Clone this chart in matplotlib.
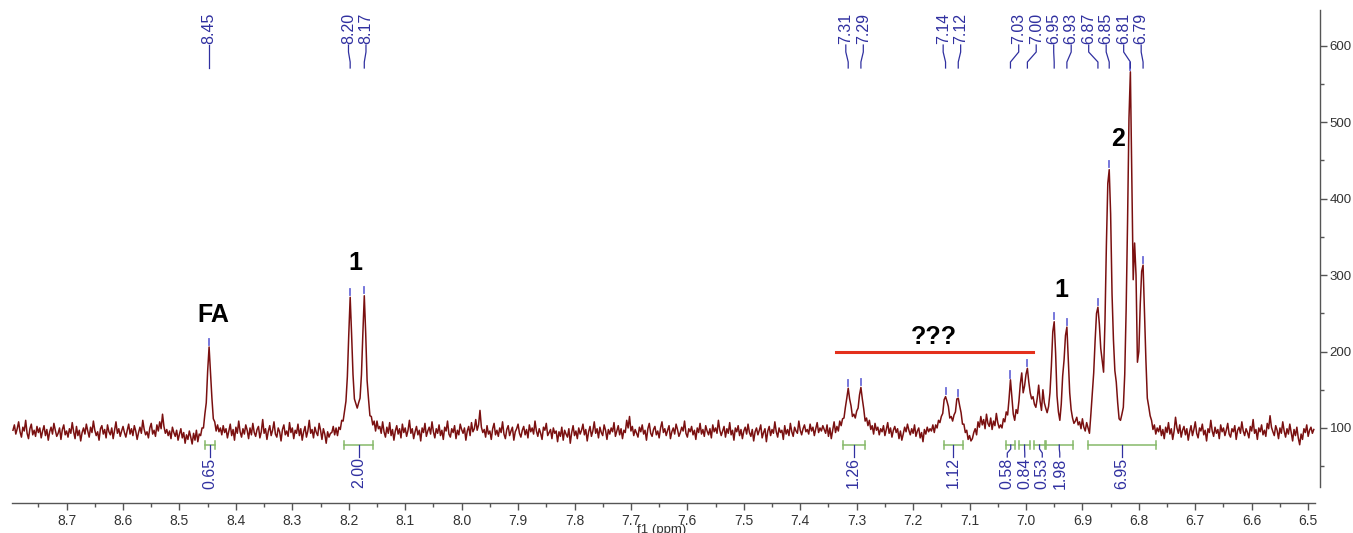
import numpy as np
import matplotlib.pyplot as plt
from matplotlib.transforms import blended_transform_factory

plt.rcParams['font.family'] = ['Liberation Sans', 'DejaVu Sans']

# espectro 1H, una muestra cada 0.0025 ppm desde 8.795 ppm
ppm_start = 8.795
ppm_step = 0.0025
intensity = [
    # 8.795 - 8.48
    97, 104, 92, 99, 108, 95, 88, 101, 96, 110, 93, 86, 99, 105, 91, 97, 89, 102, 94, 100,
    87, 96, 103, 90, 98, 84, 95, 101, 92, 106, 97, 89, 93, 100, 85, 98, 104, 91, 96, 88,
    99, 93, 107, 95, 86, 102, 90, 97, 83, 94, 100, 92, 105, 96, 88, 101, 94, 109, 97, 90,
    95, 84, 99, 103, 92, 98, 87, 104, 95, 91, 100, 86, 97, 108, 93, 99, 89, 96, 102, 94,
    88, 97, 105, 92, 99, 90, 103, 96, 85, 94, 101, 93, 110, 98, 91, 95, 87, 100, 106, 92,
    97, 89, 104, 96, 108, 99, 118, 102, 93, 98, 90, 96, 86, 101, 94, 89, 97, 84, 92, 99,
    87, 94, 80, 91, 85, 96,
    # FA 8.45
    88, 79, 93, 84, 97, 82, 92, 90, 100, 100, 118, 133, 175, 206, 172, 139, 112, 108, 96, 104,
    95, 100, 91, 103, 94, 99, 87,
    # 8.41 - 8.23
    96, 105, 90, 98, 84, 101, 93, 109, 95, 88, 99, 92, 104, 97, 86, 100, 91, 106, 94, 89,
    98, 102, 87, 95, 111, 93, 99, 85, 96, 103, 90, 97, 108, 92, 88, 100, 95, 83, 98, 104,
    91, 96, 89, 107, 94, 100, 86, 97, 93, 105, 90, 99, 84, 95, 102, 88, 96, 110, 93, 98,
    87, 101, 94, 90, 106, 97, 85, 99, 92, 80, 95, 88, 93,
    # 8.20 / 8.17
    94, 102, 91, 100, 90, 101, 98, 110, 109, 122, 135, 167, 222, 271, 223, 170, 138, 132, 126, 133,
    139, 170, 224, 273, 224, 162, 138, 116, 115, 104, 109, 96, 109, 99, 102, 93, 108,
    # 8.14 - 7.36
    95, 88, 101, 93, 107, 90, 98, 84, 96, 103, 92, 99, 87, 105, 94, 100, 89, 97, 110, 93,
    99, 86, 95, 102, 91, 97, 83, 100, 94, 106, 89, 96, 101, 92, 108, 95, 87, 99, 93, 104,
    90, 97, 85, 101, 96, 109, 92, 88, 99, 94, 103, 86, 97, 91, 105, 98, 93, 100, 84, 96,
    102, 90, 107, 95, 99, 111, 97, 104, 123, 101, 94, 98, 88, 103, 92, 96, 85, 99, 106, 91,
    97, 89, 100, 94, 108, 92, 86, 98, 103, 90, 96, 101, 84, 95, 99, 105, 93, 88, 97, 102,
    91, 98, 87, 104, 95, 100, 92, 109, 96, 89, 99, 93, 85, 101, 97, 106, 90, 94, 98, 86,
    100, 93, 96, 82, 95, 89, 101, 84, 97, 92, 88, 99, 80, 94, 103, 90, 96, 86, 100, 92,
    97, 105, 91, 98, 83, 95, 102, 89, 96, 108, 93, 99, 87, 101, 94, 90, 104, 97, 85, 98,
    92, 100, 95, 107, 89, 96, 103, 91, 99, 86, 97, 94, 110, 100, 115, 96, 102, 90, 98, 93,
    88, 101, 95, 104, 92, 97, 84, 99, 106, 93, 89, 98, 102, 91, 96, 87, 100, 108, 94, 99,
    90, 97, 103, 86, 95, 100, 92, 105, 98, 89, 94, 101, 96, 109, 93, 88, 99, 95, 102, 91,
    97, 85, 100, 94, 106, 92, 98, 89, 103, 96, 91, 99, 87, 104, 95, 100, 93, 110, 97, 90,
    96, 102, 88, 99, 93, 107, 91, 97, 84, 100, 95, 103, 90, 98, 86, 96, 101, 92, 105, 94,
    89, 98, 83, 95, 100, 91, 97, 104, 87, 94, 99, 82, 96, 102, 90, 98, 93, 108, 95, 88,
    100, 94, 97, 85, 103, 92, 98, 90, 106, 95, 89, 101, 96, 93, 109, 97, 91, 99, 104, 95,
    98, 92, 105, 96, 101, 90, 99, 107, 94, 100, 96, 103, 98,
    # 7.31 / 7.29
    93, 104, 89, 100, 86, 97, 108, 94, 102, 96, 109, 103, 112, 113, 127, 139, 152, 138, 129, 115,
    118, 113, 122, 126, 143, 153, 138, 125, 109, 113, 103, 110, 98, 103, 92, 106, 97, 101, 91, 99,
    # 7.25 - 7.17
    95, 103, 90, 98, 107, 93, 100, 88, 97, 102, 94, 99, 86, 96, 84, 92, 101, 95, 105, 97,
    91, 99, 93, 104, 89, 96, 100, 87, 94, 82, 98, 92, 101, 95, 99,
    # 7.14 / 7.12
    96, 104, 94, 104, 100, 110, 107, 115, 119, 137, 141, 135, 128, 113, 115, 109, 117, 121, 138, 139,
    129, 120, 105, 105, 94, 97, 85, 90, 83, 86,
    # 7.09 - 7.05
    94, 99, 91, 108, 101, 115, 104, 111, 99, 118, 106, 102, 113, 98, 109, 103, 119, 107, 100,
    # 7.05 - 6.77
    104, 100, 112, 108, 121, 117, 138, 163, 140, 118, 110, 124, 119, 135, 158, 172, 146, 155, 170, 178,
    160, 146, 138, 141, 131, 127, 139, 156, 135, 123, 150, 133, 126, 120, 128, 146, 181, 226, 239, 198,
    142, 121, 110, 131, 168, 189, 221, 232, 190, 146, 124, 113, 106, 109, 114, 104, 108, 99, 112, 101,
    96, 107, 100, 93, 118, 146, 172, 214, 250, 258, 236, 204, 189, 173, 240, 340, 420, 438, 380, 275,
    215, 175, 160, 133, 112, 110, 118, 127, 170, 255, 370, 505, 566, 430, 294, 342, 300, 186, 200, 262,
    305, 313, 250, 189, 139, 128, 116, 110, 98, 104, 92, 100, 95,
    # 6.76 - 6.49
    103, 90, 98, 86, 101, 94, 107, 92, 99, 85, 96, 114, 100, 93, 104, 88, 97, 102, 91, 99,
    84, 95, 103, 90, 98, 108, 93, 87, 100, 96, 105, 91, 97, 83, 99, 94, 110, 96, 89, 101,
    93, 98, 86, 104, 95, 100, 90, 97, 106, 92, 88, 99, 95, 103, 85, 97, 101, 93, 108, 96,
    90, 99, 94, 87, 102, 96, 111, 93, 98, 85, 100, 95, 104, 91, 97, 89, 106, 99, 116, 101,
    95, 90, 103, 97, 86, 100, 93, 108, 96, 88, 99, 92, 105, 94, 83, 98, 90, 101, 87, 78,
    92, 85, 99, 94, 104, 89, 97, 101, 93, 98,
]

# picos marcados
peak_ppm = [8.4475, 8.1975, 8.1725, 7.315, 7.2925, 7.1425, 7.12, 7.0275, 6.9975,
            6.95, 6.9275, 6.8725, 6.8525, 6.815, 6.7925]
peak_text = ["8.45", "8.20", "8.17", "7.31", "7.29", "7.14", "7.12", "7.03", "7.00",
             "6.95", "6.93", "6.87", "6.85", "6.81", "6.79"]

# integrales
int_from = [8.455, 8.208, 7.325, 7.145, 7.035, 7.013, 6.985, 6.965, 6.890]
int_to = [8.437, 8.157, 7.286, 7.112, 7.019, 6.992, 6.967, 6.917, 6.769]
int_text = ["0.65", "2.00", "1.26", "1.12", "0.58", "0.84", "0.53", "1.98", "6.95"]

# anotaciones
ann_text = ["FA", "1", "???", "1", "2"]
ann_ppm = [8.44, 8.189, 7.163, 6.938, 6.837]
ann_y = [248, 316, 219, 281, 478]
unknown_from, unknown_to, unknown_y = 7.336, 6.987, 200

blue = "#3030a0"
green = "#86b96a"
axis_col = "#555555"


def spread(pos, gap, join):
    # reparte etiquetas de picos cercanos a distancia fija
    groups = [[0]]
    for k in range(1, len(pos)):
        if pos[k - 1] - pos[k] < join:
            groups[-1].append(k)
        else:
            groups.append([k])
    out = []
    for g in groups:
        c = np.mean([pos[k] for k in g])
        n = len(g)
        for j in range(n):
            out.append(c + gap * ((n - 1) / 2 - j))
    return out


ppm = ppm_start - ppm_step * np.arange(len(intensity))
y = np.array(intensity, dtype=float)

fig = plt.figure(figsize=(13.53, 5.33), dpi=100)
ax = fig.add_axes([0, 30 / 533, 1320 / 1353, 503 / 533])
ax.set_xlim(8.818, 6.479)
ax.set_ylim(1.8, 660)

ax.plot(ppm, y, color="#7a1010", lw=1.1)

# marcas y etiquetas de picos
trans = blended_transform_factory(ax.transData, ax.transAxes)
lab_x = spread(peak_ppm, 0.031, 0.07)
for p, t, lx in zip(peak_ppm, peak_text, lab_x):
    h = y[np.argmin(np.abs(ppm - p))]
    ax.plot([p, p], [h + 3, h + 11], color="#6c6cd8", lw=1.3)
    ax.plot([lx, lx, p, p], [0.9105, 0.8966, 0.8767, 0.8648], color=blue, lw=0.9,
            transform=trans)
    ax.text(lx, 0.9125, t, rotation=90, ha="center", va="bottom", color=blue,
            fontsize=11.5, transform=trans)

# integrales
int_c = [(a + b) / 2 for a, b in zip(int_from, int_to)]
int_lab = spread(int_c, 0.031, 0.07)
for a, b, c, lx, t in zip(int_from, int_to, int_c, int_lab, int_text):
    ax.plot([a, b], [77.7, 77.7], color=green, lw=1.1)
    ax.plot([a, a], [73, 82.5], color=green, lw=1.1)
    ax.plot([b, b], [73, 82.5], color=green, lw=1.1)
    ax.plot([c, c, lx, lx], [77.7, 72.5, 67.3, 62], color=blue, lw=0.9)
    ax.text(lx, 61.5, t, rotation=90, ha="center", va="top", color=blue, fontsize=11.5)

# anotaciones
for t, p, v in zip(ann_text, ann_ppm, ann_y):
    ax.text(p, v, t, ha="center", va="center", fontsize=18, fontweight="bold", color="black")
ax.plot([unknown_from, unknown_to], [unknown_y, unknown_y], color="#e4301c", lw=2.2)

# ejes
for s in ["top", "left"]:
    ax.spines[s].set_visible(False)
ax.spines["right"].set_bounds(23, 647)
ax.spines["bottom"].set_bounds(8.797, 6.488)
for s in ["right", "bottom"]:
    ax.spines[s].set_color(axis_col)
    ax.spines[s].set_linewidth(1.0)

ax.set_xticks(np.arange(6.5, 8.71, 0.1))
ax.set_xticklabels([f"{v:.1f}" for v in np.arange(6.5, 8.71, 0.1)])
ax.set_xticks(np.arange(6.55, 8.8, 0.1), minor=True)
ax.yaxis.tick_right()
ax.set_yticks(np.arange(100, 601, 100))
ax.set_yticks(np.arange(50, 601, 100), minor=True)
ax.tick_params(which="major", direction="out", length=5, width=1, color=axis_col,
               labelcolor="#333333", labelsize=10, pad=3)
ax.tick_params(which="minor", direction="out", length=3, width=1, color=axis_col)
ax.tick_params(axis="y", which="both", left=False, right=True, pad=2, labelsize=9.5)

fig.text(662 / 1353, 9 / 533, "f1 (ppm)", ha="center", va="top", fontsize=9.5,
         color="#333333")

fig.savefig("out.png", dpi=100)
